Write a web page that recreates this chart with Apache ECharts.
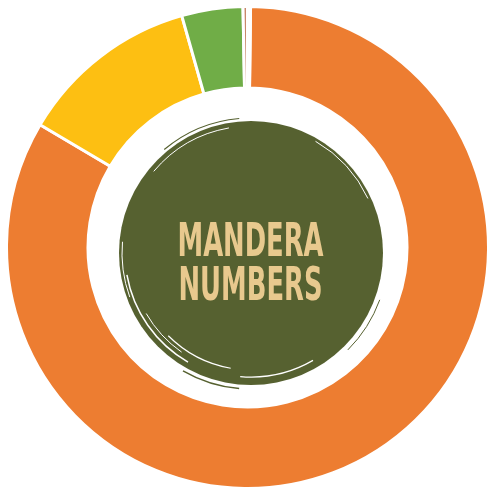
<!DOCTYPE html>
<html>
<head>
<meta charset="utf-8">
<script src="https://cdn.jsdelivr.net/npm/echarts@6/dist/echarts.min.js"></script>
<style>
  html, body { margin: 0; padding: 0; background: #ffffff; }
  #chart { width: 490px; height: 489px; }
</style>
</head>
<body>
<div id="chart"></div>
<script>
// Share of each group (percent), clockwise from the top
const categories = ['Group A', 'Group B', 'Group C', 'Group D', 'Group E'];
const shares = [83.3, 12.1, 4.1, 0.3, 0.2];
const colors = ['#ED7D31', '#FDBF12', '#70AD47', '#C8876A', '#FFFFFF'];
const titleLines = ['MANDERA', 'NUMBERS'];

const chart = echarts.init(document.getElementById('chart'), null, { renderer: 'canvas' });

const cx = 247.5, cy = 247.5;
const badgeX = 251, badgeY = 253, badgeR = 132;
const olive = '#566130';
const tan = '#E8C98E';

// Brush-like streaks around the central badge
const streaks = [
  { r: 126, a0: 120, a1: 170, w: 1.5, c: '#ffffff' },
  { r: 121, a0: 125, a1: 150, w: 1, c: '#ffffff' },
  { r: 117, a0: 100, a1: 135, w: 1.2, c: '#ffffff' },
  { r: 129, a0: 160, a1: 185, w: 1, c: '#ffffff' },
  { r: 124, a0: 60, a1: 95, w: 1.2, c: '#ffffff' },
  { r: 129, a0: 300, a1: 335, w: 1, c: '#ffffff' },
  { r: 127, a0: 220, a1: 260, w: 1, c: '#ffffff' },
  { r: 136, a0: 95, a1: 120, w: 1.5, c: olive },
  { r: 135, a0: 230, a1: 265, w: 1.2, c: olive },
  { r: 137, a0: 20, a1: 45, w: 1, c: olive }
];

const graphics = [
  {
    type: 'circle',
    shape: { cx: badgeX, cy: badgeY, r: badgeR },
    style: { fill: olive },
    z: 1
  }
].concat(streaks.map(s => ({
  type: 'arc',
  shape: {
    cx: badgeX, cy: badgeY, r: s.r,
    startAngle: s.a0 * Math.PI / 180,
    endAngle: s.a1 * Math.PI / 180
  },
  style: { stroke: s.c, lineWidth: s.w, fill: null },
  z: 2
}))).concat(titleLines.map((t, i) => ({
  type: 'text',
  x: 250.5,
  y: 244 + i * 44,
  scaleX: 0.61,
  style: {
    text: t,
    fill: tan,
    font: 'bold 47px "DejaVu Sans Condensed", "DejaVu Sans", sans-serif',
    textAlign: 'center',
    textVerticalAlign: 'middle'
  },
  z: 3
})));

chart.setOption({
  animation: false,
  backgroundColor: '#ffffff',
  graphic: graphics,
  series: [{
    type: 'pie',
    center: [cx, cy],
    radius: [159.5, 241],
    startAngle: 89.27,
    clockwise: true,
    avoidLabelOverlap: false,
    label: { show: false },
    labelLine: { show: false },
    emphasis: { disabled: true },
    itemStyle: { borderColor: '#ffffff', borderWidth: 3 },
    data: categories.map((name, i) => ({
      name: name,
      value: shares[i],
      itemStyle: { color: colors[i] }
    }))
  }]
});
</script>
</body>
</html>
